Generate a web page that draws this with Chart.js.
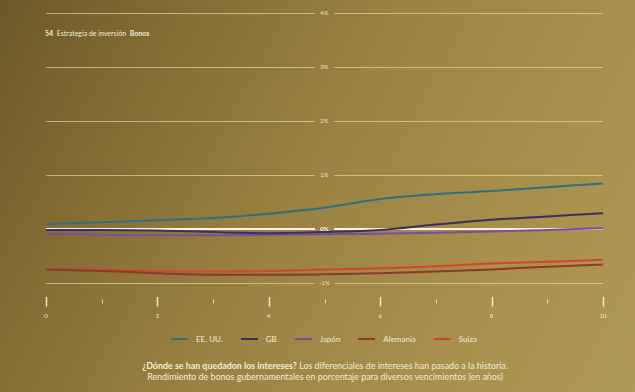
<!DOCTYPE html>
<html>
<head>
<meta charset="utf-8">
<script src="https://cdn.jsdelivr.net/npm/chart.js@4"></script>
<style>
  html, body { margin: 0; padding: 0; }
  body {
    width: 635px; height: 392px; overflow: hidden; position: relative;
    background: linear-gradient(118deg, #6c572a 0%, #846d33 22%, #9b8242 48%, #a78e4b 72%, #b09955 100%);
    font-family: Lato, "Open Sans", sans-serif; color: #f3ecdc;
  }
  #wrap { position: absolute; left: 0; top: 0; width: 635px; height: 330px; }
  .header { position: absolute; left: 45px; top: 29px; font-size: 7px; }
  .header b { font-weight: 700; }
  .legend { position: absolute; top: 334px; left: 0; width: 648px; display: flex; justify-content: center; gap: 18px; font-size: 8px; }
  .legend span { display: flex; align-items: center; }
  .legend i { display: inline-block; width: 17px; height: 2px; margin-right: 8px; }
  .caption { position: absolute; top: 360px; left: 0; width: 650px; text-align: center; font-size: 8.9px; line-height: 11px; }
</style>
</head>
<body>
<div class="header"><b>54</b>&nbsp; Estrategia de inversión &nbsp;<b>Bonos</b></div>
<div id="wrap"><canvas id="chart"></canvas></div>
<div class="legend" id="legend"></div>
<div class="caption"><b>¿Dónde se han quedadon los intereses?</b> Los diferenciales de intereses han pasado a la historia.<br>Rendimiento de bonos gubernamentales en porcentaje para diversos vencimientos (en años)</div>
<script>
const maturities = [0, 1, 2, 3, 4, 5, 6, 7, 8, 9, 10];
const usa = [0.10, 0.13, 0.17, 0.21, 0.29, 0.40, 0.56, 0.65, 0.71, 0.78, 0.85];
const gb = [-0.01, -0.01, -0.02, -0.05, -0.07, -0.05, -0.01, 0.09, 0.18, 0.24, 0.30];
const japan = [-0.08, -0.10, -0.11, -0.11, -0.10, -0.09, -0.08, -0.06, -0.04, -0.01, 0.02];
const germany = [-0.74, -0.77, -0.81, -0.84, -0.84, -0.83, -0.81, -0.78, -0.74, -0.69, -0.65];
const swiss = [-0.74, -0.75, -0.77, -0.78, -0.77, -0.74, -0.72, -0.68, -0.63, -0.60, -0.56];
const seriesNames = ['EE. UU.', 'GB', 'Japón', 'Alemania', 'Suiza'];
const yTicks = [-1, 0, 1, 2, 3, 4];
const xLabels = [0, 2, 4, 6, 8, 10];

const colors = ['#2e6f88', '#3a2f62', '#7b4e9b', '#8c3a2c', '#d2452a'];
const seriesValues = [usa, gb, japan, germany, swiss];

// legend in html
const legendEl = document.getElementById('legend');
seriesNames.forEach((name, i) => {
  const s = document.createElement('span');
  s.innerHTML = '<i style="background:' + colors[i] + '"></i>' + name;
  legendEl.appendChild(s);
});

// labels on the middle of the grid lines + tick marks under the chart
const axisDecor = {
  id: 'axisDecor',
  beforeDatasetsDraw(chart) {
    const ctx = chart.ctx;
    const y = chart.scales.y, x = chart.scales.x;
    const cx = x.getPixelForValue(5);
    ctx.save();
    ctx.textAlign = 'center';
    ctx.textBaseline = 'middle';
    yTicks.forEach(v => {
      const py = y.getPixelForValue(v);
      const label = v + '%';
      ctx.font = (v === 0 ? 'bold ' : '') + '6px Lato, sans-serif';
      const w = ctx.measureText(label).width + 10;
      ctx.clearRect(cx - w / 2, py - 3, w, 6);
      ctx.fillStyle = v === 0 ? '#ffffff' : '#efe5c8';
      ctx.fillText(label, cx, py);
    });
    // x ticks
    const bottom = chart.chartArea.bottom;
    ctx.strokeStyle = '#f2ead6';
    ctx.fillStyle = '#f2ead6';
    maturities.forEach(m => {
      const px = Math.round(x.getPixelForValue(m)) + 0.5;
      const major = m % 2 === 0;
      ctx.lineWidth = major ? 1.5 : 0.8;
      ctx.beginPath();
      ctx.moveTo(px, bottom + (major ? 0 : 2.5));
      ctx.lineTo(px, bottom + (major ? 9.5 : 6.5));
      ctx.stroke();
    });
    ctx.font = '6px Lato, sans-serif';
    xLabels.forEach(m => {
      ctx.fillText(String(m), x.getPixelForValue(m), bottom + 19);
    });
    ctx.restore();
  }
};

new Chart(document.getElementById('chart'), {
  type: 'line',
  data: {
    datasets: seriesNames.map((name, i) => ({
      label: name,
      data: maturities.map((m, j) => ({ x: m, y: seriesValues[i][j] })),
      borderColor: colors[i],
      borderWidth: 2,
      pointRadius: 0,
      tension: 0.4,
      cubicInterpolationMode: 'monotone',
      fill: false,
    })),
  },
  options: {
    responsive: true,
    maintainAspectRatio: false,
    animation: false,
    layout: { padding: { left: 46, right: 32, top: 13, bottom: 33 } },
    plugins: { legend: { display: false }, tooltip: { enabled: false } },
    scales: {
      x: {
        type: 'linear', min: 0, max: 10,
        display: false,
      },
      y: {
        type: 'linear', min: -1.25, max: 4,
        afterBuildTicks: (axis) => { axis.ticks = yTicks.map(v => ({ value: v })); },
        ticks: { display: false },
        border: { display: false },
        grid: {
          drawTicks: false,
          color: (c) => c.tick && c.tick.value === 0 ? '#f8f2e6' : 'rgba(232,220,178,0.65)',
          lineWidth: (c) => c.tick && c.tick.value === 0 ? 2 : 1,
        },
      },
    },
  },
  plugins: [axisDecor],
});
</script>
</body>
</html>
